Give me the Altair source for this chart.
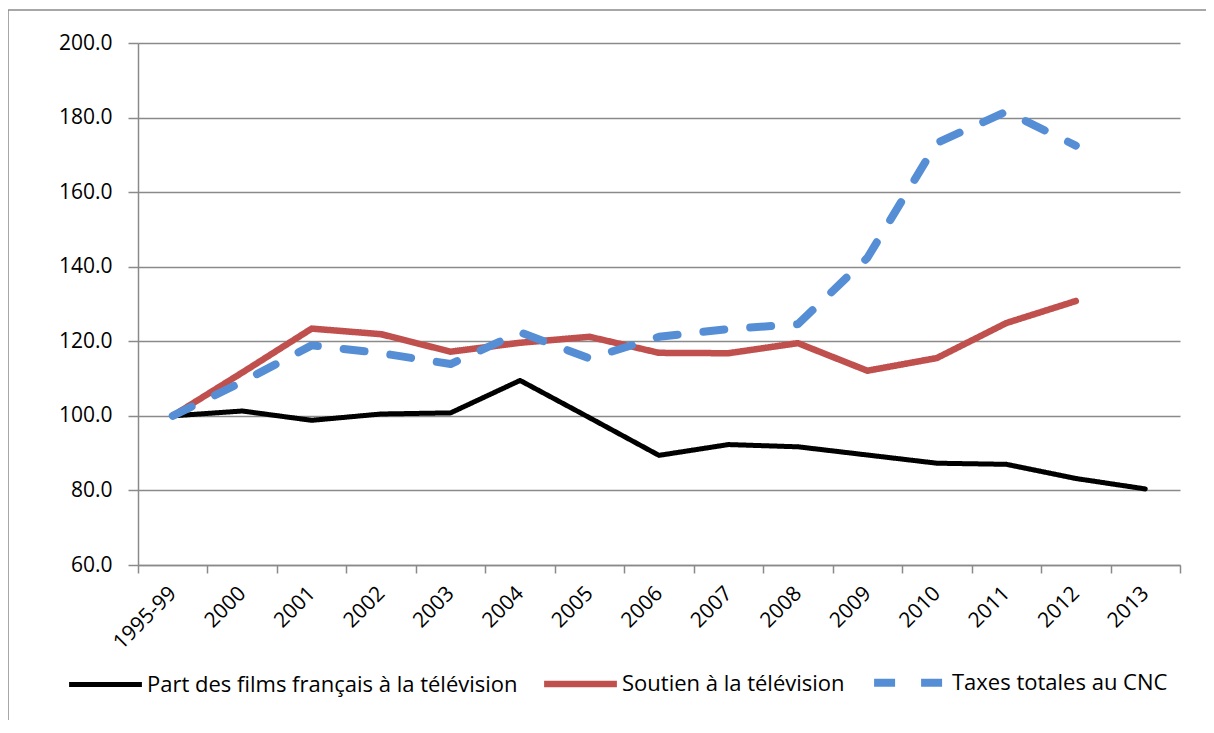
import altair as alt
import pandas as pd

cats = ["1995-99", "2000", "2001", "2002", "2003", "2004", "2005", "2006",
        "2007", "2008", "2009", "2010", "2011", "2012", "2013"]
part = [100.0, 101.3, 98.8, 100.5, 100.8, 109.5, 99.5, 89.4, 92.3, 91.7,
        89.5, 87.3, 87.0, 83.2, 80.4]
soutien = [100.0, 111.6, 123.4, 121.9, 117.2, 119.6, 121.2, 116.9, 116.8, 119.5,
           112.1, 115.5, 124.9, 130.8, None]
taxes = [100.0, 109.1, 118.9, 116.8, 113.9, 122.4, 115.4, 121.2, 123.3, 124.6,
         142.4, 173.2, 181.6, 172.5, None]
series = ["Part des films français à la télévision",
          "Soutien à la télévision",
          "Taxes totales au CNC"]
colors = ["#000000", "#C0504D", "#558ED5"]
y_ticks = [60, 80, 100, 120, 140, 160, 180, 200]

rows = []
for name, vals in zip(series, [part, soutien, taxes]):
    for c, v in zip(cats, vals):
        if v is not None:
            rows.append({"annee": c, "indice": v, "serie": name})
df = pd.DataFrame(rows)

FONT = "Open Sans"
FS = 21
GRID = "#8a8a8a"

x_enc = alt.X("annee:N", sort=cats, bandPosition=0.5,
              scale=alt.Scale(type="band", domain=cats, paddingInner=0, paddingOuter=0),
              axis=alt.Axis(title=None, labelAngle=-45, labelAlign="right",
                            labelBaseline="middle", tickBand="extent", tickSize=8,
                            labelPadding=17, grid=False, labelFontSize=FS,
                            labelFont=FONT, labelColor="#000000",
                            tickColor=GRID, domainColor=GRID, tickWidth=1.5,
                            domainWidth=1.5))
y_enc = alt.Y("indice:Q",
              scale=alt.Scale(domain=[60, 200], nice=False, zero=False),
              axis=alt.Axis(title=None, values=y_ticks, format=".1f", tickSize=10,
                            labelPadding=16, grid=True, gridColor=GRID, gridWidth=1.5,
                            labelFontSize=FS, labelFont=FONT, labelColor="#000000",
                            tickColor=GRID, domainColor=GRID, tickWidth=1.5,
                            domainWidth=1.5))
color_enc = alt.Color("serie:N", title=None,
                      scale=alt.Scale(domain=series, range=colors))
dash_enc = alt.StrokeDash("serie:N", title=None,
                          scale=alt.Scale(domain=series, range=[[1, 0], [1, 0], [21, 26]]))
width_enc = alt.StrokeWidth("serie:N", title=None,
                            scale=alt.Scale(domain=series, range=[5, 8, 9]))

one = pd.DataFrame({"f": [0]})
frame_top = alt.Chart(one).mark_rule(stroke=GRID, strokeWidth=1.5).encode(
    x=alt.value(-130), x2=alt.value(1068), y=alt.value(-33))
frame_left = alt.Chart(one).mark_rule(stroke=GRID, strokeWidth=1.5).encode(
    x=alt.value(-130), y=alt.value(-33), y2=alt.value(677))

layers = [frame_top, frame_left]
for name in series:
    layers.append(
        alt.Chart(df).transform_filter(alt.datum.serie == name)
        .mark_line(strokeCap="round", strokeJoin="round")
        .encode(x=x_enc, y=y_enc, color=color_enc, strokeDash=dash_enc,
                strokeWidth=width_enc)
    )

chart = alt.layer(*layers).properties(
    width=1042, height=522,
    autosize=alt.AutoSizeParams(type="none"),
    padding={"left": 130, "top": 35, "right": 26, "bottom": 155},
).configure_view(strokeWidth=0).configure_legend(
    orient="none", legendX=-73, legendY=599, direction="horizontal",
    columns=3, columnPadding=13, symbolType="stroke", symbolSize=5300,
    labelFont=FONT, labelFontSize=22, labelColor="#000000", labelOffset=1,
    padding=0, labelLimit=600
)

chart.save("out.html", embed_options={"renderer": "svg", "actions": False})
